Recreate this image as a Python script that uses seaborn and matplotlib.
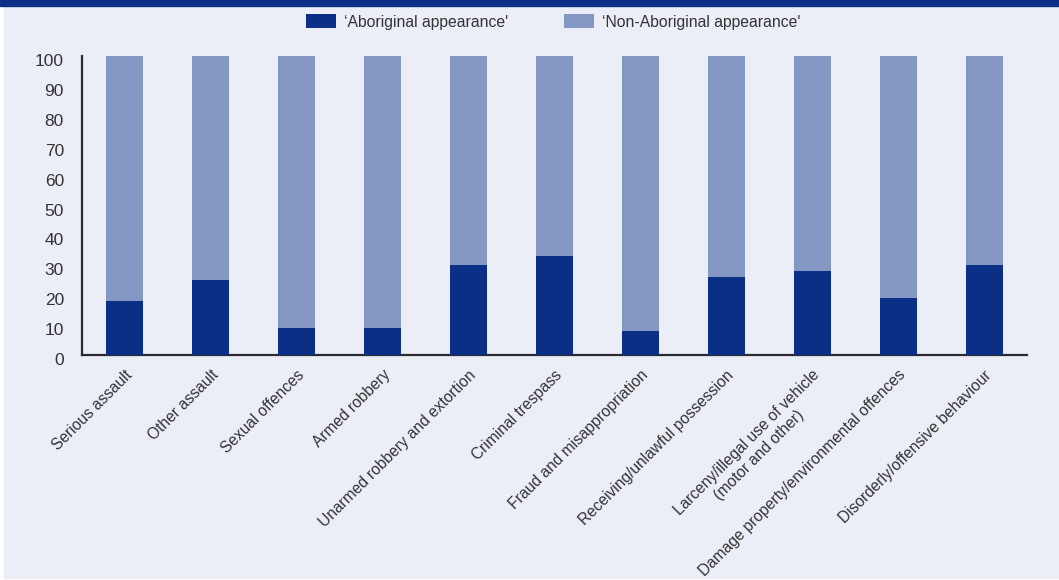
import matplotlib
matplotlib.use("Agg")
import matplotlib.pyplot as plt
import matplotlib.transforms as mtransforms
from matplotlib.patches import Rectangle, Patch
import seaborn as sns
import pandas as pd

categories = [
    "Serious assault",
    "Other assault",
    "Sexual offences",
    "Armed robbery",
    "Unarmed robbery and extortion",
    "Criminal trespass",
    "Fraud and misappropriation",
    "Receiving/unlawful possession",
    "Larceny/illegal use of vehicle\n(motor and other)",
    "Damage property/environmental offences",
    "Disorderly/offensive behaviour",
]
aboriginal = [18, 25, 9, 9, 30, 33, 8, 26, 28, 19, 30]
non_aboriginal = [82, 75, 91, 91, 70, 67, 92, 74, 72, 81, 70]
series_labels = ["\u2018Aboriginal appearance'", "\u2018Non-Aboriginal appearance'"]
y_ticks = [0, 10, 20, 30, 40, 50, 60, 70, 80, 90, 100]

DARK = "#0b2e86"
LIGHT = "#8598c3"
BG = "#ebeef7"
TEXT = "#333333"

sns.set_theme(style="white")
plt.rcParams["font.family"] = ["Liberation Sans", "DejaVu Sans"]

df = pd.DataFrame({
    "category": categories,
    "aboriginal": aboriginal,
    "total": [a + b for a, b in zip(aboriginal, non_aboriginal)],
})

W, H = 1059, 580
fig = plt.figure(figsize=(W / 100, H / 100), dpi=100, facecolor="white")
# panel background and top band
fig.patches.append(Rectangle((4 / W, 2 / H), 1 - 4 / W, (H - 8) / H,
                             transform=fig.transFigure, color=BG, zorder=-10))
fig.patches.append(Rectangle((0, (H - 6) / H), 1, 6 / H,
                             transform=fig.transFigure, color=DARK, zorder=-9))

ax = fig.add_axes([82 / W, (H - 355) / H, 945 / W, (355 - 56) / H])
ax.set_facecolor("none")

sns.barplot(data=df, x="category", y="total", color=LIGHT, width=0.43,
            saturation=1, linewidth=0, ax=ax, zorder=2)
sns.barplot(data=df, x="category", y="aboriginal", color=DARK, width=0.43,
            saturation=1, linewidth=0, ax=ax, zorder=3)

ax.set_xlim(-0.5, len(categories) - 0.5)
ax.set_ylim(0, 100)
ax.set_yticks(y_ticks)
ax.set_xlabel("")
ax.set_ylabel("")

for side in ["top", "right"]:
    ax.spines[side].set_visible(False)
for side in ["left", "bottom"]:
    ax.spines[side].set_color("#2b2b2b")
    ax.spines[side].set_linewidth(1.6)

ax.tick_params(axis="y", length=0, pad=13, labelsize=12.5, labelcolor=TEXT)
ax.tick_params(axis="x", length=0, pad=9, labelsize=11.2, labelcolor=TEXT)

offset = mtransforms.ScaledTranslation(0, -4 / 100, fig.dpi_scale_trans)
for lbl in ax.get_yticklabels():
    lbl.set_transform(lbl.get_transform() + offset)

ax.set_xticks(range(len(categories)))
ax.set_xticklabels(categories, rotation=45, ha="right",
                   rotation_mode="anchor", multialignment="center")

handles = [Patch(facecolor=DARK, edgecolor="none"),
           Patch(facecolor=LIGHT, edgecolor="none")]
fig.legend(handles, series_labels, loc="center", bbox_to_anchor=(553 / W, 1 - 22 / H),
           ncol=2, frameon=False, fontsize=11.3, labelcolor=TEXT,
           handlelength=1.9, handleheight=1.0, handletextpad=0.5, columnspacing=3.6)

fig.savefig("out.png", dpi=100, facecolor=fig.get_facecolor())
